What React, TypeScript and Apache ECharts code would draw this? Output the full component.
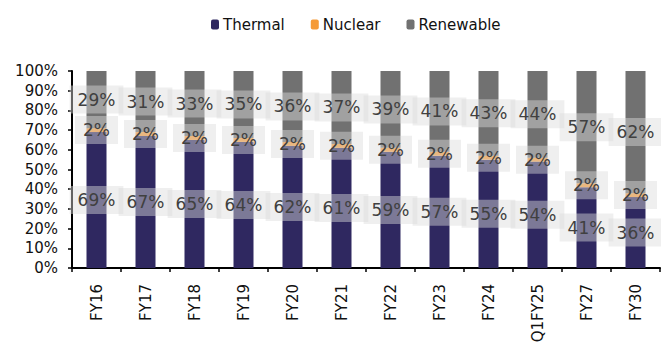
import React, { useEffect, useRef } from "react";
import * as echarts from "echarts";

const categories = ["FY16", "FY17", "FY18", "FY19", "FY20", "FY21", "FY22", "FY23", "FY24", "Q1FY25", "FY27", "FY30"];
const thermal = [69, 67, 65, 64, 62, 61, 59, 57, 55, 54, 41, 36];
const nuclear = [2, 2, 2, 2, 2, 2, 2, 2, 2, 2, 2, 2];
const renewable = [29, 31, 33, 35, 36, 37, 39, 41, 43, 44, 57, 62];
const yTicks = [0, 10, 20, 30, 40, 50, 60, 70, 80, 90, 100];

const FONT = "DejaVu Sans, Verdana, sans-serif";

const labelStyle = {
  show: true,
  position: "inside",
  formatter: (p: any) => `${p.value}%`,
  fontFamily: FONT,
  fontSize: 17,
  lineHeight: 17,
  color: "#404040",
  backgroundColor: "rgba(219,219,219,0.45)",
  padding: [5, 8, 6, 8],
};

export default function App() {
  const ref = useRef<HTMLDivElement>(null);

  useEffect(() => {
    if (!ref.current) return;
    const chart = echarts.init(ref.current, undefined, { renderer: "svg" });
    const mk = (name: string, data: number[], color: string) => ({
      name,
      type: "bar",
      stack: "mix",
      data,
      barWidth: 20,
      itemStyle: { color },
      label: labelStyle,
      emphasis: { disabled: true },
    });
    chart.setOption({
      animation: false,
      legend: {
        left: 206,
        top: 12,
        itemWidth: 8,
        itemHeight: 10,
        itemGap: 26,
        textStyle: { fontFamily: FONT, fontSize: 15, color: "#111", padding: [0, 0, 0, -1] },
        data: ["Thermal", "Nuclear", "Renewable"],
      },
      grid: { left: 72, right: 1, top: 71, bottom: 79, containLabel: false },
      xAxis: {
        type: "category",
        data: categories,
        axisLine: { lineStyle: { color: "#000", width: 2 } },
        axisTick: { show: true, length: 4, lineStyle: { color: "#000", width: 1.5 } },
        axisLabel: { rotate: 90, margin: 16, fontFamily: FONT, fontSize: 15, color: "#111" },
      },
      yAxis: {
        type: "value",
        min: yTicks[0],
        max: yTicks[yTicks.length - 1],
        interval: 10,
        splitLine: { show: false },
        axisLine: { show: true, lineStyle: { color: "#000", width: 2 } },
        axisTick: { show: true, length: 4, lineStyle: { color: "#000", width: 1.5 } },
        axisLabel: { margin: 14, fontFamily: FONT, fontSize: 15, color: "#111", formatter: "{value}%" },
      },
      series: [
        mk("Thermal", thermal, "#2f2860"),
        mk("Nuclear", nuclear, "#f59a36"),
        mk("Renewable", renewable, "#717171"),
      ],
    });
    return () => chart.dispose();
  }, []);

  return <div ref={ref} style={{ width: 661, height: 347, position: "absolute", left: 0, top: 0 }} />;
}
